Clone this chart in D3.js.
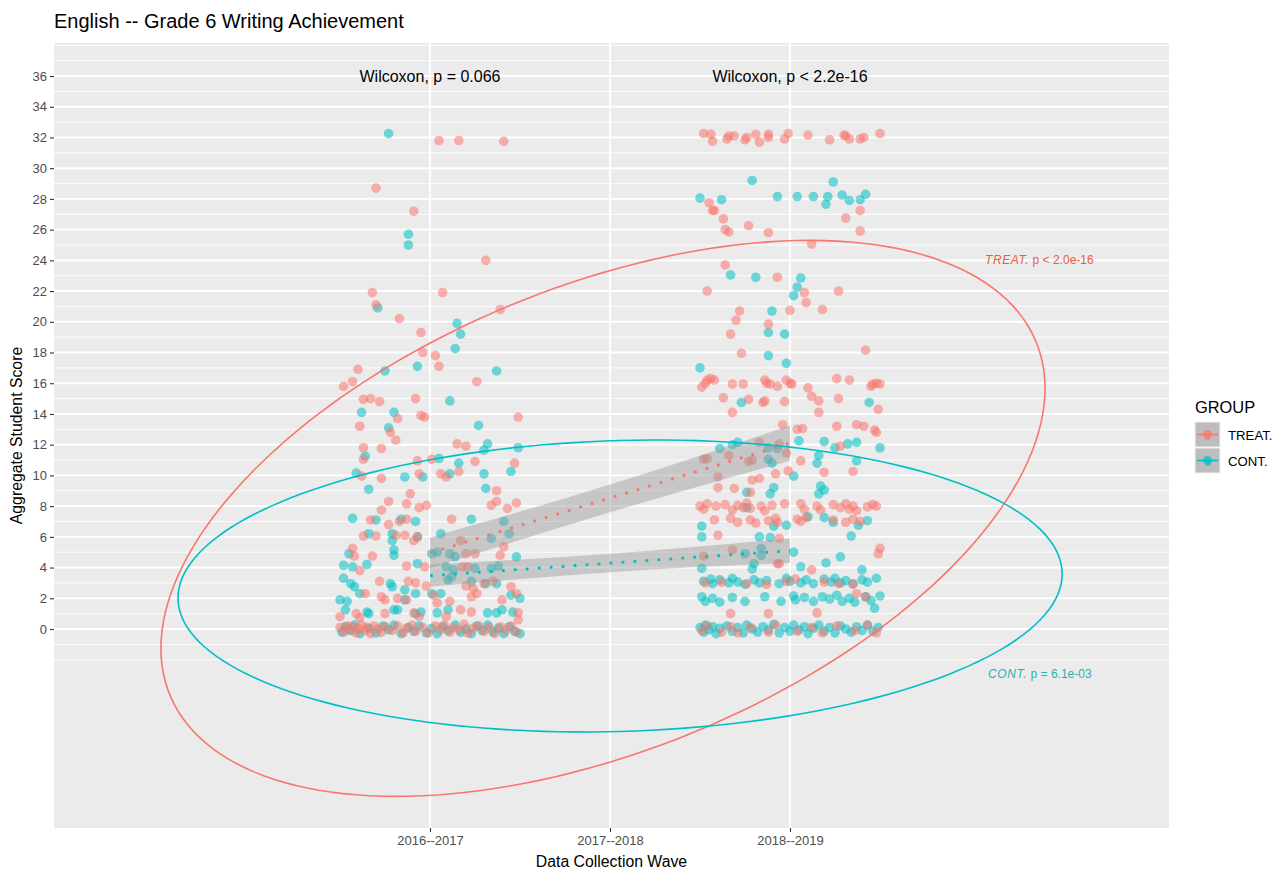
<!DOCTYPE html>
<html><head><meta charset="utf-8">
<script src="https://cdn.jsdelivr.net/npm/d3@7"></script>
<style>
body{margin:0;background:#fff}
text{font-family:"Liberation Sans",Arial,Helvetica,sans-serif}
</style>
</head><body>
<svg id="chart" width="1278" height="872"></svg>
<script>
// ---- data ----
const waveValues = [1, 2, 3];
const waveLabels = ["2016--2017", "2017--2018", "2018--2019"];
const scoreTicks = [0,2,4,6,8,10,12,14,16,18,20,22,24,26,28,30,32,34,36];
const groups = ["TREAT.", "CONT."];

// jittered observations: [offset from wave position, score]
const treatWave1 = [
[0.05,31.8],[0.16,31.8],[0.41,31.75],[-0.30,28.7],[-0.09,27.2],[0.31,24.0],[-0.32,21.9],[0.07,21.9],[-0.30,21.1],[0.39,20.8],[-0.17,20.2],[-0.05,19.3],[-0.04,18.0],[0.03,17.8],[0.05,17.1],[-0.40,16.9],[-0.43,16.1],[-0.48,15.8],[0.26,16.1],[-0.37,14.95],[-0.33,15.0],[-0.28,14.8],[-0.08,15.0],[0.49,13.8],[-0.05,13.9],[-0.03,13.8],[-0.18,13.7],[-0.39,13.2],
[-0.22,12.8],[-0.19,12.3],[-0.37,11.8],[-0.27,11.75],[-0.37,11.05],[0.15,12.05],[0.2,11.9],[0.25,10.9],[0.47,10.8],[-0.07,10.95],[0.01,11.05],[-0.06,10.1],[0.06,10.1],[0.09,9.9],[0.16,10.25],[-0.38,9.95],[-0.27,9.8],[-0.11,8.8],[0.37,9.0],[-0.23,8.3],[-0.13,8.15],[-0.06,7.9],[-0.02,8.05],[-0.27,7.75],[-0.33,7.1],[-0.13,7.15],[-0.17,7.0],[-0.23,6.8],[-0.37,6.05],[-0.3,6.05],[-0.19,6.1],[-0.14,6.1],[-0.09,5.75],[-0.07,6.0],[0.12,7.15],[0.34,8.05],[0.37,8.3],[0.43,7.85],[0.48,8.2],[0.41,5.35],[0.39,4.8],[-0.43,5.25],[-0.42,4.75],[-0.32,4.75],[-0.39,3.8],[-0.13,4.1],[-0.03,4.05],[0.17,5.75],[0.2,4.9],[0.25,4.9],[0.18,4.05],[0.21,4.05],[-0.28,3.1],[-0.12,3.1],[-0.08,3.0],[-0.02,2.8],[0.2,2.8],[0.24,2.65],[0.3,2.95],[0.35,3.1],[0.45,2.75],[0.48,2.3],[-0.36,2.3],[-0.27,2.1],[-0.25,1.9],[-0.18,2.0],[-0.13,1.9],[0.02,2.2],[0.04,1.7],[0.11,1.8],[0.23,2.1],[0.26,2.3],[0.4,1.9],[-0.5,0.8],[-0.41,1.0],[-0.39,0.75],[-0.25,1.0],[-0.09,1.05],[-0.06,0.8],[0.09,0.8],[0.17,1.25],[0.23,1.1],[0.49,1.05],[0.49,0.6],
[-0.5,0.1],[-0.48,-0.2],[-0.46,0.2],[-0.45,-0.05],[-0.43,0.15],[-0.41,-0.25],[-0.4,0.05],[-0.38,0.25],[-0.36,-0.1],[-0.35,0.1],[-0.33,-0.3],[-0.31,0.2],[-0.29,0.0],[-0.27,-0.2],[-0.25,0.15],[-0.21,-0.1],[-0.18,0.2],[-0.15,-0.25],[-0.13,0.05],[-0.1,0.25],[-0.08,-0.15],[-0.04,0.1],[-0.01,-0.25],[0.03,0.2],[0.06,-0.05],[0.08,0.25],[0.11,-0.2],[0.13,0.1],[0.16,-0.05],[0.19,0.3],[0.21,-0.25],[0.24,0.05],[0.27,0.2],[0.3,-0.15],[0.33,0.1],[0.36,-0.3],[0.39,0.15],[0.42,-0.1],[0.45,0.2],[0.48,-0.2]
];
const contWave1 = [
[-0.23,32.25],[-0.12,25.7],[-0.12,25.0],[-0.29,20.9],[0.15,19.9],[0.17,19.2],[0.14,18.25],[-0.07,17.1],[-0.25,16.8],[0.37,16.8],[0.11,14.85],[-0.38,14.1],[-0.20,14.1],[0.27,13.25],[-0.23,13.1],
[-0.36,11.25],[-0.41,10.15],[-0.34,9.1],[-0.14,9.9],[-0.04,9.9],[0.16,10.8],[0.11,10.1],[0.3,11.65],[0.32,12.05],[0.49,11.8],[0.3,10.1],[0.31,9.15],[0.45,10.25],[0.05,11.1],[-0.43,7.2],[-0.3,7.1],[-0.34,6.2],[-0.21,6.2],[-0.21,5.75],[-0.16,7.15],[-0.08,7.0],[0.06,6.2],[0.23,7.15],[0.34,5.9],[0.41,7.0],[0.44,6.2],[0.48,4.7],[-0.2,5.15],[-0.2,4.8],[-0.07,6.0],[-0.45,4.9],[-0.48,4.15],[-0.43,4.05],[-0.35,4.2],[-0.07,4.25],[0.01,4.9],[0.04,5.0],[0.11,4.9],[0.14,4.7],[0.09,4.05],[0.13,3.85],[0.25,3.95],[0.34,3.95],[0.38,4.1],[-0.48,3.3],[-0.44,2.95],[-0.42,2.75],[-0.22,2.95],[-0.21,2.75],[-0.14,2.55],[0.1,3.2],[0.12,3.4],[0.23,3.1],[0.31,2.95],[0.37,2.95],[-0.39,2.3],[-0.08,2.3],[0.01,2.3],[0.06,2.3],[0.45,2.2],[0.5,2.0],[-0.5,1.9],[-0.46,1.8],[-0.47,1.25],[-0.35,1.1],[-0.34,1.0],[-0.2,1.25],[-0.18,1.25],[-0.14,1.9],[-0.08,1.0],[-0.05,1.1],[0.04,1.05],[0.1,1.25],[0.32,1.05],[0.37,1.05],[0.4,1.25],[0.46,1.1],
[-0.49,-0.2],[-0.47,0.15],[-0.44,-0.1],[-0.42,0.25],[-0.39,-0.3],[-0.34,0.05],[-0.3,-0.25],[-0.26,0.2],[-0.23,-0.05],[-0.2,0.25],[-0.16,-0.3],[-0.12,0.1],[-0.09,-0.15],[-0.06,0.2],[-0.02,-0.25],[0.01,0.05],[0.04,-0.3],[0.07,0.15],[0.1,-0.1],[0.14,0.25],[0.17,-0.2],[0.2,0.0],[0.23,-0.3],[0.26,0.2],[0.29,-0.1],[0.32,0.25],[0.35,-0.2],[0.38,0.05],[0.41,-0.3],[0.44,0.15],[0.47,-0.15],[0.5,-0.3]
];
const treatWave3 = [
[-0.48,32.25],[-0.44,32.2],[-0.43,31.75],[-0.35,31.9],[-0.34,32.1],[-0.31,32.1],[-0.25,31.85],[-0.24,32.0],[-0.19,32.2],[-0.17,31.7],[-0.12,32.2],[-0.12,32.0],[-0.03,31.9],[-0.01,32.25],[0.1,32.15],[0.22,31.85],[0.3,32.15],[0.31,32.1],[0.33,31.9],[0.39,31.9],[0.41,32.0],[0.5,32.25],
[-0.45,27.75],[-0.43,27.25],[-0.42,27.25],[-0.37,26.7],[-0.23,26.25],[-0.36,26.0],[-0.34,25.85],[-0.12,25.8],[0.31,26.75],[0.39,27.25],[0.39,25.9],[0.12,25.05],[-0.36,23.7],[-0.07,22.9],[-0.46,22.0],[0.08,21.9],[0.09,21.25],[0.27,22.0],[-0.28,20.7],[0.0,20.75],[0.18,20.8],[-0.3,20.1],[-0.12,19.85],[-0.33,19.2],[-0.27,17.95],[0.42,18.15],
[-0.49,15.75],[-0.47,16.0],[-0.46,16.2],[-0.44,16.3],[-0.42,16.2],[-0.32,15.95],[-0.26,15.95],[-0.14,16.2],[-0.13,16.0],[-0.11,15.95],[-0.07,15.8],[-0.02,16.2],[0.0,16.0],[0.01,15.95],[0.1,15.7],[0.26,16.3],[0.33,16.2],[0.45,15.8],[0.46,15.95],[0.48,16.0],[0.5,15.95],
[-0.37,15.05],[-0.23,14.95],[-0.15,14.75],[-0.14,14.85],[-0.03,14.8],[0.12,15.15],[0.16,14.85],[0.27,15.0],[-0.32,14.1],[0.16,14.1],[0.49,14.3],[-0.04,13.3],[0.04,13.0],[0.07,13.05],[0.26,13.2],[0.37,13.3],[0.41,13.2],[0.47,12.95],[0.48,12.8],
[-0.48,11.05],[-0.46,11.1],[-0.34,11.3],[-0.17,12.15],[-0.23,10.9],[-0.21,11.0],[-0.06,12.05],[-0.02,11.45],[0.06,10.95],[0.19,10.2],[0.28,11.9],[0.35,10.25],[-0.01,10.3],[-0.08,10.1],[-0.4,9.9],[-0.21,9.7],[-0.17,9.8],[-0.4,9.2],[-0.31,9.15],[-0.22,8.9],[-0.03,8.15],
[-0.5,8.0],[-0.48,7.8],[-0.46,8.15],[-0.41,8.0],[-0.36,8.1],[-0.32,7.75],[-0.29,8.05],[-0.26,7.9],[-0.24,8.2],[-0.22,7.85],[-0.16,8.0],[-0.14,7.7],[-0.1,8.05],[0.06,8.15],[0.08,7.8],[0.15,8.0],[0.17,7.75],[0.24,8.1],[0.28,7.9],[0.31,8.15],[0.33,7.8],[0.35,8.0],[0.37,7.7],[0.43,7.95],[0.46,8.1],[0.48,8.0],
[-0.42,7.1],[-0.33,7.2],[-0.29,6.95],[-0.22,7.1],[-0.19,6.9],[-0.12,7.05],[-0.08,7.2],[-0.07,6.95],[0.04,7.15],[0.06,7.0],[0.09,7.25],[0.24,7.1],[0.31,6.95],[0.35,7.15],[0.39,7.0],
[-0.4,6.1],[-0.06,5.9],[0.5,5.25],[0.49,4.9],[-0.48,4.75],[-0.32,5.15],[-0.07,4.25],[-0.06,4.25],[0.12,3.85],
[-0.47,3.0],[-0.38,3.05],[-0.24,2.95],[-0.13,2.9],[-0.02,3.1],[0.03,3.25],[0.19,3.05],[0.27,2.95],[0.35,2.9],
[0.37,2.3],[0.42,2.1],[-0.33,1.0],[-0.12,1.0],[0.15,1.05],
[-0.49,-0.1],[-0.46,0.2],[-0.38,-0.2],[-0.33,0.15],[-0.29,-0.25],[-0.22,0.1],[-0.12,-0.2],[-0.08,0.25],[0.04,-0.15],[0.12,0.1],[0.18,-0.25],[0.26,0.2],[0.36,-0.1],[0.43,0.25],[0.48,-0.25]
];
const contWave3 = [
[-0.21,29.2],[0.24,29.1],[-0.5,28.05],[-0.38,27.95],[-0.07,28.15],[0.04,28.15],[0.13,28.15],[0.21,28.15],[0.2,27.65],[0.29,28.25],[0.33,27.9],[0.39,27.95],[0.42,28.3],
[-0.33,23.05],[-0.19,22.9],[0.06,22.85],[0.04,22.25],[0.02,21.7],[-0.1,20.7],[-0.12,19.3],[-0.03,19.2],[-0.12,17.8],[-0.02,17.3],[-0.5,17.0],[-0.27,14.75],[0.44,14.75],
[-0.39,11.75],[-0.32,12.0],[-0.29,12.15],[-0.12,11.8],[-0.07,11.75],[-0.12,11.05],[-0.1,10.8],[0.05,12.25],[0.19,12.2],[0.25,11.8],[0.32,12.05],[0.37,12.15],[0.16,11.3],[0.15,10.8],[0.5,11.8],[0.37,10.95],[0.02,9.95],[0.17,9.3],[0.16,8.8],[0.19,9.05],[-0.09,9.2],[-0.11,8.8],[-0.24,8.9],[-0.24,7.9],[-0.49,6.7],[-0.49,6.0],[-0.17,6.0],[-0.11,5.95],[-0.09,6.7],[-0.02,6.75],[0.19,7.25],[0.24,6.95],[0.38,6.75],[0.43,7.05],[0.34,6.05],[0.1,7.3],[0.02,5.0],[-0.16,5.25],[-0.16,4.8],[-0.25,4.9],[-0.2,4.25],[-0.49,3.95],[-0.21,3.9],[0.06,4.05],[0.2,4.3],[0.28,4.7],[0.4,3.85],[0.47,1.35],
[-0.48,3.1],[-0.44,3.25],[-0.43,2.95],[-0.39,3.2],[-0.34,3.0],[-0.32,3.3],[-0.29,3.05],[-0.25,2.9],[-0.2,3.2],[-0.17,3.0],[-0.13,3.15],[-0.06,2.95],[-0.02,3.3],[0.0,3.1],[0.06,3.0],[0.09,3.2],[0.13,2.95],[0.19,3.25],[0.23,3.05],[0.25,3.3],[0.28,3.0],[0.31,3.15],[0.35,2.95],[0.4,3.2],[0.43,3.05],[0.48,3.3],
[-0.49,2.1],[-0.47,1.8],[-0.43,2.0],[-0.39,1.75],[-0.32,2.05],[-0.25,1.8],[-0.14,2.1],[-0.05,1.8],[0.02,2.15],[0.03,1.9],[0.08,2.05],[0.13,1.8],[0.18,2.1],[0.22,1.95],[0.26,2.2],[0.29,1.8],[0.33,2.0],[0.36,1.75],[0.42,2.1],[0.45,1.85],[0.5,2.15],
[-0.5,0.1],[-0.48,-0.2],[-0.47,0.25],[-0.45,-0.05],[-0.43,0.15],[-0.41,-0.3],[-0.39,0.05],[-0.35,0.2],[-0.32,-0.15],[-0.29,0.1],[-0.26,-0.25],[-0.24,0.25],[-0.21,0.0],[-0.18,-0.2],[-0.15,0.15],[-0.12,-0.05],[-0.09,0.3],[-0.06,-0.25],[-0.03,0.1],[0.0,-0.15],[0.02,0.25],[0.05,-0.05],[0.08,0.15],[0.1,-0.3],[0.13,0.05],[0.16,0.25],[0.19,-0.15],[0.22,0.1],[0.25,-0.25],[0.28,0.2],[0.31,0.0],[0.34,-0.2],[0.37,0.15],[0.4,-0.1],[0.43,0.25],[0.46,-0.15],[0.49,0.1]
];

// linear trend per group: fitted value at each end wave
const trendX = [1, 3];
const treatFit = [4.95, 12.1];
const contFit = [3.47, 5.1];
// confidence band bounds at waves 1, 2, 3
const bandX = [1, 2, 3];
const treatLower = [3.95, 7.6, 10.95];
const treatUpper = [5.95, 9.4, 13.25];
const contLower = [2.75, 3.7, 4.3];
const contUpper = [4.2, 4.9, 5.9];

// data ellipses: centre [x, y], x radius, y coupling with cos, y radius with sin
const treatEllipse = {cx: 1.961, cy: 7.2, ax: 2.456, cyc: 8.46, cys: 16.0};
const contEllipse  = {cx: 2.056, cy: 2.80, ax: 2.456, cyc: 0.78, cys: 9.47};

const wilcoxLabels = ["Wilcoxon, p = 0.066", "", "Wilcoxon, p < 2.2e-16"];

// ---- drawing ----
const RED = "#F8766D", TEAL = "#00BFC4";
const svg = d3.select("#chart");
const P = {l: 54, r: 1169, t: 43, b: 828};

const x = d3.scaleLinear().domain([-1.0889, 5.1056]).range([P.l, P.r]);
const y = d3.scaleLinear().domain([-12.955, 38.15]).range([P.b, P.t]);

svg.append("rect").attr("x", P.l).attr("y", P.t).attr("width", P.r - P.l).attr("height", P.b - P.t).attr("fill", "#EBEBEB");

const grid = svg.append("g");
const minor = d3.range(-2, 38.5, 1).filter(v => !(v >= 0 && v <= 36 && v % 2 === 0));
grid.selectAll(".mn").data(minor).join("line")
  .attr("x1", P.l).attr("x2", P.r).attr("y1", d => y(d)).attr("y2", d => y(d))
  .attr("stroke", "#fff").attr("stroke-width", 0.9);
grid.selectAll(".mj").data(scoreTicks).join("line")
  .attr("x1", P.l).attr("x2", P.r).attr("y1", d => y(d)).attr("y2", d => y(d))
  .attr("stroke", "#fff").attr("stroke-width", 1.9);
grid.selectAll(".vx").data(waveValues).join("line")
  .attr("y1", P.t).attr("y2", P.b).attr("x1", d => x(d)).attr("x2", d => x(d))
  .attr("stroke", "#fff").attr("stroke-width", 1.9);

// axes
const yAxis = d3.axisLeft(y).tickValues(scoreTicks).tickSize(4).tickPadding(3);
const gy = svg.append("g").attr("transform", `translate(${P.l},0)`).call(yAxis);
const xAxis = d3.axisBottom(x).tickValues(waveValues).tickFormat((d, i) => waveLabels[i]).tickSize(4).tickPadding(4);
const gx = svg.append("g").attr("transform", `translate(0,${P.b})`).call(xAxis);
[gx, gy].forEach(g => {
  g.select(".domain").remove();
  g.selectAll(".tick line").attr("stroke", "#333").attr("stroke-width", 1.1);
  g.selectAll(".tick text").attr("fill", "#4D4D4D").style("font-size", "13px")
    .style("font-family", '"Liberation Sans",Arial,sans-serif');
});

// points
const pts = svg.append("g");
function drawPoints(data, wave, color) {
  pts.append("g").selectAll("circle").data(data).join("circle")
    .attr("cx", d => x(wave + d[0])).attr("cy", d => y(d[1])).attr("r", 4.8)
    .attr("fill", color).attr("fill-opacity", 0.55);
}
drawPoints(contWave1, 1, TEAL);
drawPoints(treatWave1, 1, RED);
drawPoints(contWave3, 3, TEAL);
drawPoints(treatWave3, 3, RED);

// confidence bands and trend lines
const band = d3.area().x((d, i) => x(bandX[i])).y0(d => y(d[0])).y1(d => y(d[1])).curve(d3.curveMonotoneX);
const line = d3.line().x((d, i) => x(trendX[i])).y(d => y(d));
[[treatLower, treatUpper], [contLower, contUpper]].forEach(([lo, hi]) => {
  svg.append("path").attr("d", band(lo.map((v, i) => [v, hi[i]])))
    .attr("fill", "#999").attr("fill-opacity", 0.45);
});
[[treatFit, RED], [contFit, TEAL]].forEach(([f, c]) => {
  svg.append("path").attr("d", line(f)).attr("fill", "none").attr("stroke", c)
    .attr("stroke-width", 2.8).attr("stroke-dasharray", "2.8,9.2");
});

// ellipses
function ellipsePath(e) {
  const ts = d3.range(0, 361, 2).map(a => a * Math.PI / 180);
  return d3.line()(ts.map(t => [x(e.cx + e.ax * Math.cos(t)), y(e.cy + e.cyc * Math.cos(t) + e.cys * Math.sin(t))]));
}
svg.append("path").attr("d", ellipsePath(treatEllipse)).attr("fill", "none").attr("stroke", RED).attr("stroke-width", 1.6);
svg.append("path").attr("d", ellipsePath(contEllipse)).attr("fill", "none").attr("stroke", TEAL).attr("stroke-width", 1.6);

// ellipse labels
function groupLabel(px, py, name, rest, color) {
  const t = svg.append("text").attr("x", px).attr("y", py).attr("fill", color).style("font-size", "12px");
  t.append("tspan").style("font-style", "italic").style("letter-spacing", "0.6px").text(name);
  t.append("tspan").text(" " + rest);
}
groupLabel(985, 264, "TREAT.", "p < 2.0e-16", "#E5603F");
groupLabel(988, 678, "CONT.", "p = 6.1e-03", "#1FB3B8");

// Wilcoxon annotations
svg.selectAll(".wil").data(waveValues).join("text")
  .attr("x", d => x(d)).attr("y", y(36) + 6).attr("text-anchor", "middle")
  .style("font-size", "16px").attr("fill", "#000").text((d, i) => wilcoxLabels[i]);

// titles
svg.append("text").attr("x", 54).attr("y", 28).style("font-size", "20px").attr("fill", "#000")
  .text("English -- Grade 6 Writing Achievement");
svg.append("text").attr("x", (P.l + P.r) / 2).attr("y", 867).attr("text-anchor", "middle")
  .style("font-size", "15.8px").attr("fill", "#000").text("Data Collection Wave");
svg.append("text").attr("transform", `translate(22,${(P.t + P.b) / 2}) rotate(-90)`).attr("text-anchor", "middle")
  .style("font-size", "15.8px").attr("fill", "#000").text("Aggregate Student Score");

// legend
const lg = svg.append("g");
lg.append("text").attr("x", 1195).attr("y", 413).style("font-size", "16.4px").attr("fill", "#000").text("GROUP");
groups.forEach((g, i) => {
  const ky = 422 + i * 26, c = i === 0 ? RED : TEAL;
  lg.append("rect").attr("x", 1195).attr("y", ky).attr("width", 25).attr("height", 25).attr("fill", "#BDBDBD")
    .attr("stroke", "#F2F2F2").attr("stroke-width", 1);
  lg.append("line").attr("x1", 1197).attr("x2", 1218).attr("y1", ky + 12.5).attr("y2", ky + 12.5)
    .attr("stroke", c).attr("stroke-width", 1.6);
  lg.append("circle").attr("cx", 1207.5).attr("cy", ky + 12.5).attr("r", 4.5).attr("fill", c).attr("fill-opacity", 0.7);
  lg.append("text").attr("x", 1207.5).attr("y", ky + 18).attr("text-anchor", "middle").style("font-size", "8px")
    .attr("fill", c).text("a");
  lg.append("text").attr("x", 1228).attr("y", ky + 17.5).style("font-size", "13.2px").attr("fill", "#000").text(g);
});
</script>
</body></html>
